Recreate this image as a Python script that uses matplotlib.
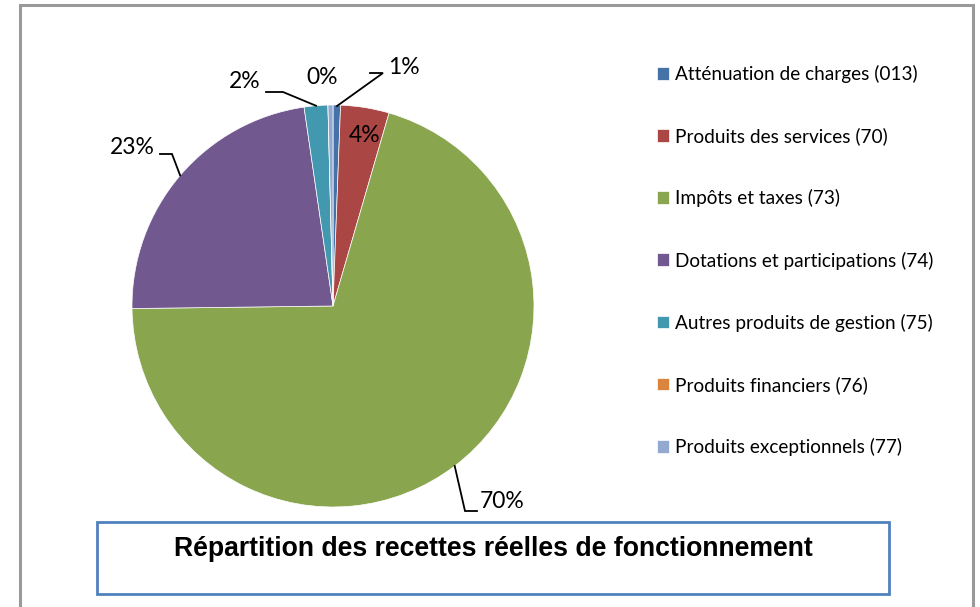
import numpy as np
import matplotlib
matplotlib.use("Agg")
import matplotlib.pyplot as plt
from matplotlib.patches import Rectangle

categories = [
    "Atténuation de charges (013)",
    "Produits des services (70)",
    "Impôts et taxes (73)",
    "Dotations et participations (74)",
    "Autres produits de gestion (75)",
    "Produits financiers (76)",
    "Produits exceptionnels (77)",
]
values = [0.6, 3.9, 70.3, 22.9, 1.9, 0.0, 0.4]
colors = ["#4572A7", "#AA4643", "#89A54E", "#71588F", "#4198AF", "#DB843D", "#93A9CF"]
title = "Répartition des recettes réelles de fonctionnement"

W, H = 980, 607
fig = plt.figure(figsize=(W / 100, H / 100), dpi=100)

def fx(px):
    return px / W

def fy(py):
    return 1 - py / H

# outer frame
fig.patches.append(Rectangle((fx(20), fy(640)), fx(973) - fx(20), fy(5) - fy(640),
                             transform=fig.transFigure, fill=False,
                             edgecolor="#999999", lw=2.2, zorder=0))

cx, cy, R = 333, 306, 201
ax = fig.add_axes([fx(cx - R), fy(cy + R), 2 * R / W, 2 * R / H])
wedges, _ = ax.pie(values, colors=colors, startangle=90, counterclock=False,
                   radius=1.0, wedgeprops=dict(linewidth=0.5, edgecolor="white"))
ax.set_xlim(-1, 1)
ax.set_ylim(-1, 1)
ax.set_aspect("equal")
ax.axis("off")

total = sum(values)
fracs = np.array(values) / total
ends = np.cumsum(fracs) * 360
starts = ends - fracs * 360
mids = (starts + ends) / 2  # clockwise from top

def edge_pt(i, r=1.0):
    a = np.deg2rad(90 - mids[i])
    return r * np.cos(a), r * np.sin(a)

def d(px, py):
    return (px - cx) / R, (cy - py) / R

labfont = dict(family=["Lato", "DejaVu Sans"], fontsize=16.5, color="black")
pct = [f"{round(v / total * 100):.0f}%" for v in values]

# label layout: (text pos px, ha, elbow points px or None)
layout = {
    0: ((388, 68), "left", [(383, 73), (370, 73)]),
    1: ((365, 136), "center", None),
    2: ((480, 502), "left", [(465, 511), (477, 511)]),
    3: ((155, 148), "right", [(172, 154), (160, 154)]),
    4: ((260, 82), "right", [(283, 92), (266, 92)]),
    6: ((322, 78), "center", None),
}
for i, ((tx, ty), ha, pts) in layout.items():
    x, y = d(tx, ty)
    ax.text(x, y, pct[i], ha=ha, va="center", **labfont, clip_on=False)
    if pts:
        ex, ey = edge_pt(i)
        if i == 0:
            ex, ey = d(337, 106)
        xs = [ex] + [d(*p)[0] for p in pts]
        ys = [ey] + [d(*p)[1] for p in pts]
        ax.plot(xs, ys, color="black", lw=1.3, clip_on=False,
                solid_joinstyle="miter")

# legend
leg = fig.legend(wedges, categories, loc="upper left",
                 bbox_to_anchor=(fx(657), fy(65)), frameon=False,
                 prop=dict(family=["Lato", "DejaVu Sans"], size=13.7),
                 handlelength=0.65, handleheight=0.65, handletextpad=0.28,
                 labelspacing=2.32, borderaxespad=0, borderpad=0)

# title box
fig.patches.append(Rectangle((fx(97), fy(594)), fx(889) - fx(97), fy(522) - fy(594),
                             transform=fig.transFigure, fill=False,
                             edgecolor="#4F81BD", lw=2, zorder=1))
fig.text(fx(493), fy(549), title, ha="center", va="center",
         family=["Liberation Sans", "DejaVu Sans"], fontweight="bold", fontsize=19.2)

fig.savefig("out.png", dpi=100, facecolor="white")
